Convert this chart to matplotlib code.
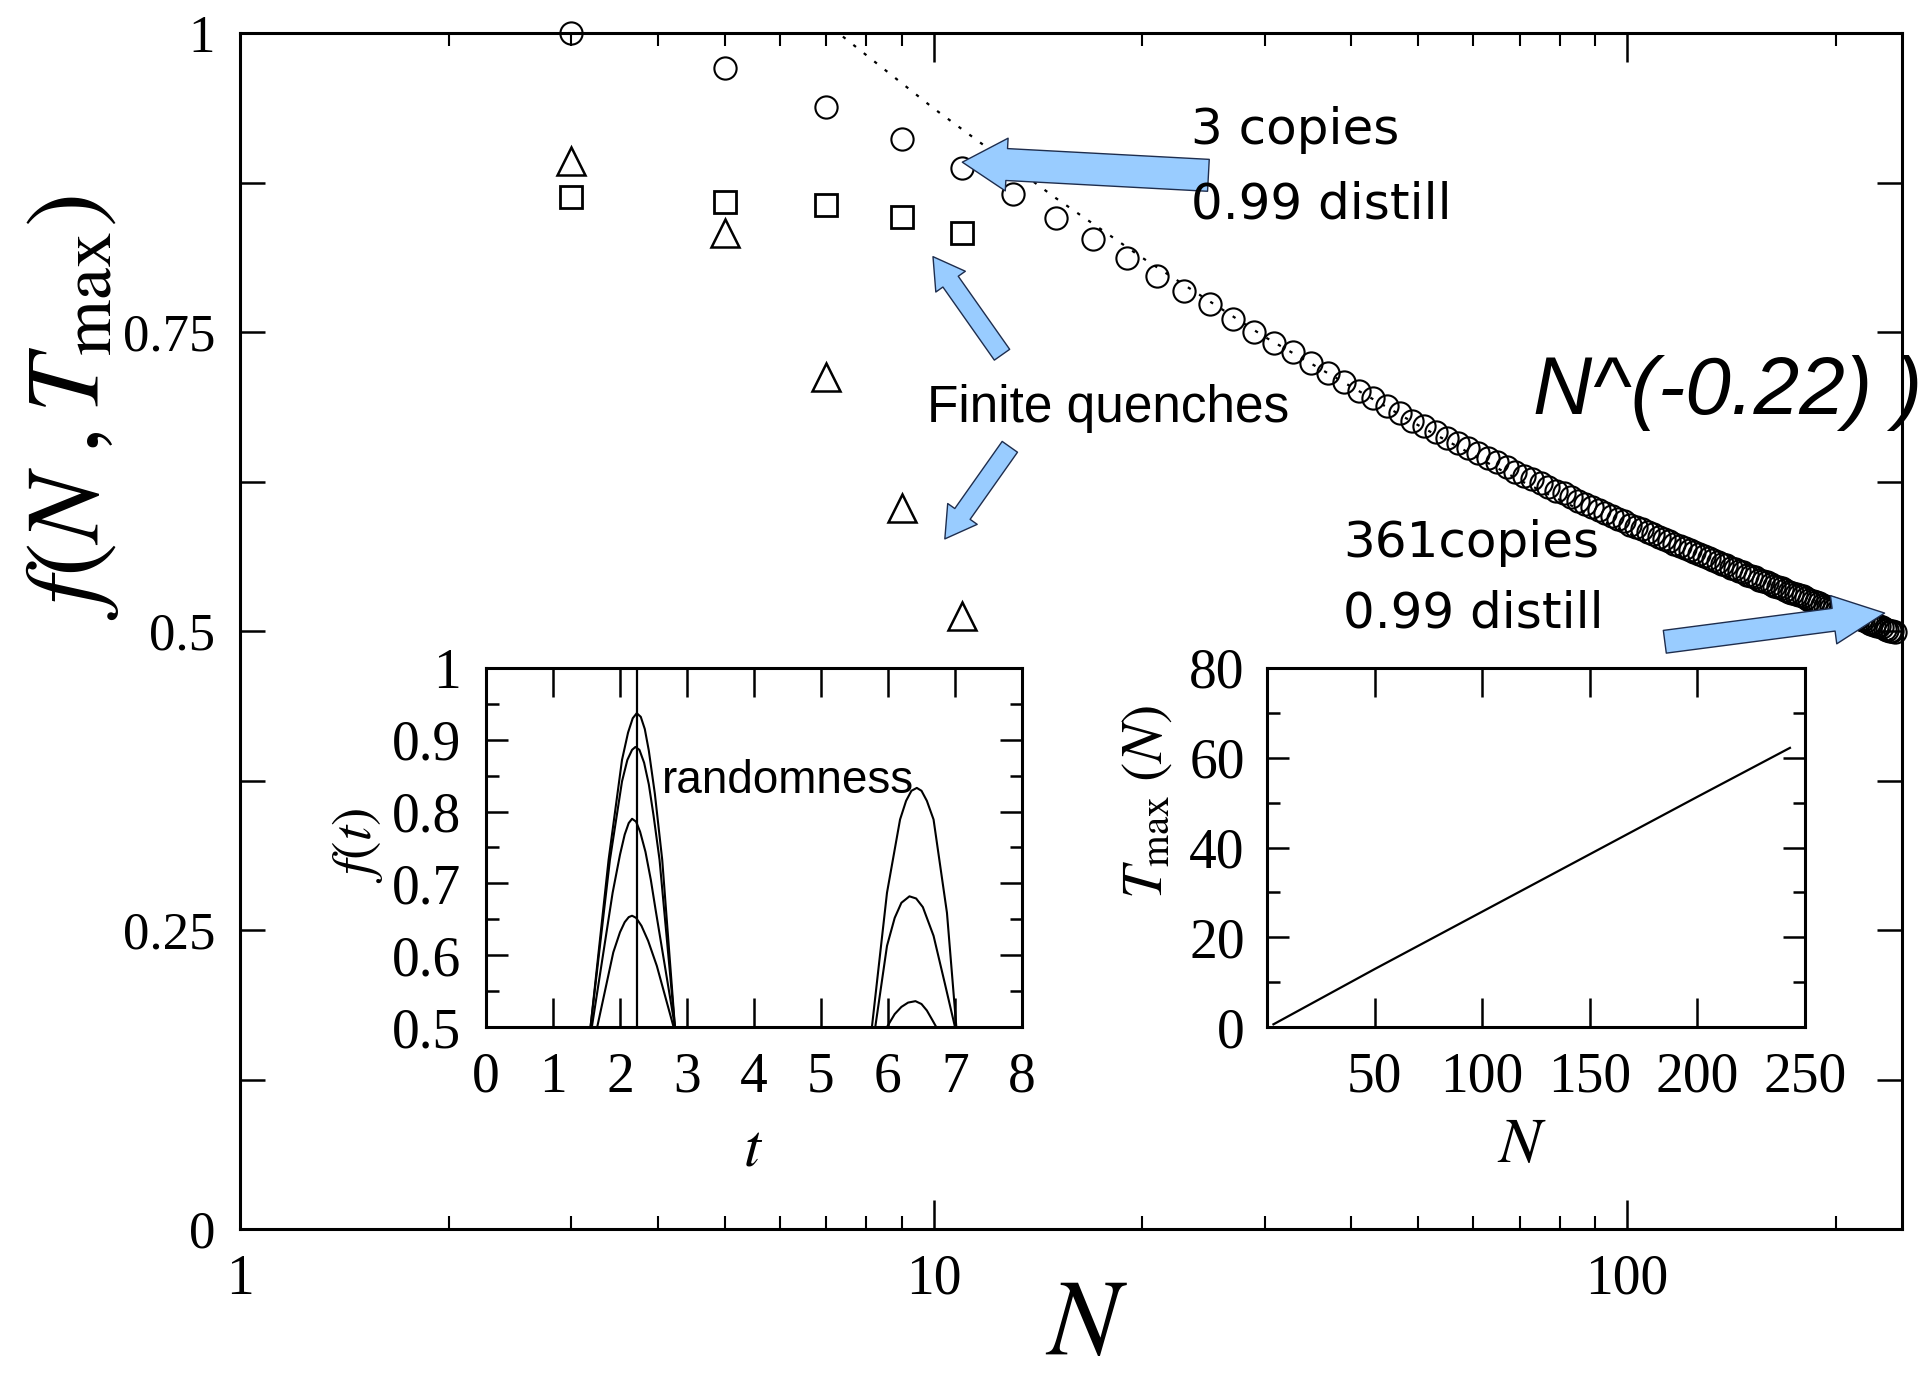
import numpy as np
import matplotlib
matplotlib.use("Agg")
import matplotlib.pyplot as plt
from matplotlib.ticker import LogLocator, NullFormatter

plt.rcParams['font.family'] = 'serif'
plt.rcParams['font.serif'] = ['Liberation Serif', 'DejaVu Serif']
plt.rcParams['mathtext.fontset'] = 'stix'

# ---- main panel data ----
N_circ = np.arange(3, 245, 2)
f_circ = [1.000, 0.971, 0.938, 0.911, 0.887, 0.865, 0.845, 0.828, 0.812, 0.797,
          0.784, 0.773, 0.761, 0.750, 0.741, 0.733, 0.724, 0.716, 0.708, 0.701,
          0.695, 0.688, 0.682, 0.676, 0.671, 0.666, 0.661, 0.657, 0.653, 0.649,
          0.645, 0.641, 0.637, 0.633, 0.630, 0.627, 0.624, 0.620, 0.617, 0.615,
          0.612, 0.609, 0.606, 0.604, 0.601, 0.599, 0.596, 0.594, 0.592, 0.589,
          0.587, 0.585, 0.583, 0.581, 0.579, 0.577, 0.575, 0.573, 0.571, 0.569,
          0.568, 0.566, 0.564, 0.563, 0.561, 0.559, 0.558, 0.556, 0.555, 0.553,
          0.552, 0.550, 0.549, 0.547, 0.546, 0.545, 0.543, 0.542, 0.541, 0.539,
          0.538, 0.537, 0.536, 0.534, 0.533, 0.532, 0.531, 0.530, 0.529, 0.528,
          0.526, 0.525, 0.524, 0.523, 0.522, 0.521, 0.520, 0.519, 0.518, 0.517,
          0.516, 0.515, 0.514, 0.513, 0.512, 0.512, 0.511, 0.510, 0.509, 0.508,
          0.507, 0.506, 0.505, 0.504, 0.504, 0.503, 0.502, 0.501, 0.500, 0.500,
          0.499]

N_quench = [3, 5, 7, 9, 11]
f_square = [0.863, 0.859, 0.856, 0.846, 0.8325]
f_triangle = [0.893, 0.833, 0.712, 0.603, 0.5125]

N_fit = [7.4, 10, 15, 20, 30, 50, 70, 100, 150, 200, 249]
f_fit = [0.997, 0.937, 0.862, 0.812, 0.746, 0.672, 0.626, 0.582, 0.537, 0.508, 0.490]

# ---- inset 1: f(t) ----
t_A = [1.56, 1.83, 2.03, 2.12, 2.19, 2.25, 2.31, 2.37, 2.43, 2.52, 2.63, 2.82]
f_A = [0.50, 0.733, 0.872, 0.910, 0.930, 0.937, 0.932, 0.915, 0.885, 0.825, 0.733, 0.50]
t_B = [1.56, 1.85, 2.03, 2.11, 2.18, 2.23, 2.29, 2.36, 2.43, 2.50, 2.59, 2.82]
f_B = [0.50, 0.733, 0.842, 0.872, 0.886, 0.890, 0.886, 0.868, 0.838, 0.795, 0.733, 0.50]
t_C = [1.58, 1.89, 2.00, 2.07, 2.13, 2.18, 2.24, 2.30, 2.38, 2.46, 2.53, 2.82]
f_C = [0.50, 0.687, 0.740, 0.768, 0.784, 0.790, 0.786, 0.772, 0.744, 0.705, 0.664, 0.50]
t_D = [1.66, 1.90, 2.00, 2.07, 2.13, 2.18, 2.24, 2.32, 2.42, 2.55, 2.80]
f_D = [0.50, 0.604, 0.632, 0.646, 0.653, 0.655, 0.652, 0.641, 0.620, 0.585, 0.50]
t_E = [5.76, 5.985, 6.18, 6.27, 6.35, 6.43, 6.50, 6.58, 6.68, 6.88, 7.02]
f_E = [0.50, 0.687, 0.789, 0.815, 0.829, 0.833, 0.829, 0.815, 0.789, 0.659, 0.50]
t_F = [5.81, 5.985, 6.10, 6.20, 6.32, 6.42, 6.52, 6.68, 6.85, 7.00]
f_F = [0.50, 0.613, 0.652, 0.673, 0.682, 0.679, 0.667, 0.627, 0.560, 0.50]
t_G = [5.985, 6.10, 6.20, 6.30, 6.41, 6.50, 6.58, 6.66, 6.72]
f_G = [0.50, 0.518, 0.528, 0.534, 0.536, 0.532, 0.523, 0.510, 0.50]
t_mark = 2.25

# ---- inset 2: Tmax(N) ----
N_T = [3, 50, 100, 150, 200, 243]
T_max = [0.6, 12.9, 25.7, 38.5, 51.3, 62.2]

W, H = 1920, 1382
fig = plt.figure(figsize=(W / 100, H / 100), dpi=100)

def px_axes(left, top, right, bottom):
    return fig.add_axes([left / W, (H - bottom) / H, (right - left) / W, (bottom - top) / H])

ax = px_axes(240, 33, 1902, 1229)

ax.plot(N_fit, f_fit, color='black', lw=1.6, ls=(0, (1.5, 4.5)), zorder=1)
ax.plot(N_circ, f_circ, 'o', ms=16, mfc='none', mec='black', mew=1.5, clip_on=False, zorder=2)
ax.plot(N_quench, f_square, 's', ms=16, mfc='none', mec='black', mew=2.0, clip_on=False, zorder=2)
ax.plot(N_quench, f_triangle, '^', ms=20, mfc='none', mec='black', mew=1.8, clip_on=False, zorder=2)

ax.set_xscale('log')
ax.set_xlim(1, 249)
ax.set_ylim(0, 1)
ax.set_xticks([1, 10, 100])
ax.set_xticklabels(['1', '10', '100'])
ax.xaxis.set_minor_locator(LogLocator(base=10, subs=np.arange(2, 10)))
ax.xaxis.set_minor_formatter(NullFormatter())
ax.set_yticks([0, 0.25, 0.5, 0.75, 1])
ax.set_yticklabels(['0', '0.25', '0.5', '0.75', '1'])
ax.set_yticks([0.125, 0.375, 0.625, 0.875], minor=True)

ax.tick_params(axis='x', which='major', direction='in', length=21, width=1.8,
               top=True, labelsize=40, pad=18)
ax.tick_params(axis='x', which='minor', direction='in', length=9.5, width=1.5, top=True)
ax.tick_params(axis='y', which='both', direction='in', length=18, width=1.8,
               right=True, labelsize=38, pad=18)
for s in ax.spines.values():
    s.set_linewidth(2.2)

ax.set_xlabel(r'$N$', fontsize=78)
ax.xaxis.set_label_coords(0.5096, -0.083)
ax.xaxis.label.set_va('center')
ax.set_ylabel(r'$f(N\;,T_{\rm max})$', fontsize=74)
ax.yaxis.set_label_coords(-0.1005, 0.687)
ax.yaxis.label.set_va('center')

# arrows and annotations
blue = '#99ccff'
edge = '#1e2d4d'

def arrow(tip, tail, tw, hw, hl):
    ax.annotate('', xy=tip, xytext=tail, zorder=3,
                arrowprops=dict(arrowstyle='simple,head_length=%g,head_width=%g,tail_width=%g' % (hl, hw, tw),
                                mutation_scale=10, fc=blue, ec=edge, lw=1.0,
                                shrinkA=0, shrinkB=0))

arrow((11.0, 0.892), (24.9, 0.881), 2.3, 3.8, 3.2)
arrow((9.98, 0.813), (12.55, 0.731), 1.35, 2.6, 2.2)
arrow((10.38, 0.577), (12.88, 0.654), 1.35, 2.6, 2.2)
arrow((235, 0.515), (113.3, 0.491), 1.65, 3.5, 3.7)

comic = dict(family='DejaVu Sans', fontsize=36, transform=ax.transAxes, va='baseline', zorder=5)
ax.text(0.572, 0.9068, '3 copies', **comic)
ax.text(0.572, 0.8453, '0.99 distill', **comic)
ax.text(0.6637, 0.5619, '361copies', **comic)
ax.text(0.6637, 0.5033, '0.99 distill', **comic)
ax.text(0.4134, 0.6748, 'Finite quenches', family='Liberation Sans', fontsize=37,
        transform=ax.transAxes, va='baseline', zorder=5)
ax.text(0.778, 0.6814, 'N^(-0.22) )', family='Liberation Sans', style='italic', fontsize=59,
        transform=ax.transAxes, va='baseline', zorder=5)

# ---- inset 1 ----
ax1 = px_axes(486, 668, 1022, 1027)
for tt, ff in [(t_A, f_A), (t_B, f_B), (t_C, f_C), (t_D, f_D), (t_E, f_E), (t_F, f_F), (t_G, f_G)]:
    ax1.plot(tt, ff, color='black', lw=1.5)
ax1.axvline(t_mark, color='black', lw=1.6)
ax1.set_xlim(0, 8)
ax1.set_ylim(0.5, 1)
ax1.set_xticks(range(0, 9))
ax1.set_yticks([0.5, 0.6, 0.7, 0.8, 0.9, 1.0])
ax1.set_yticklabels(['0.5', '0.6', '0.7', '0.8', '0.9', '1'])
ax1.set_yticks([0.55, 0.65, 0.75, 0.85, 0.95], minor=True)
ax1.tick_params(axis='x', direction='in', length=21, width=1.8, top=True, labelsize=40, pad=18)
ax1.tick_params(axis='y', which='major', direction='in', length=16, width=1.8, right=True,
                labelsize=40, pad=18)
ax1.tick_params(axis='y', which='minor', direction='in', length=9, width=1.8, right=True)
for s in ax1.spines.values():
    s.set_linewidth(2.2)
ax1.set_xlabel(r'$t$', fontsize=44)
ax1.xaxis.set_label_coords(0.498, -0.345)
ax1.xaxis.label.set_va('center')
ax1.set_ylabel(r'$f(t)$', fontsize=40)
ax1.yaxis.set_label_coords(-0.239, 0.507)
ax1.yaxis.label.set_va('center')
ax1.text(0.328, 0.652, 'randomness', family='Liberation Sans', fontsize=33,
         transform=ax1.transAxes, va='baseline')

# ---- inset 2 ----
ax2 = px_axes(1267, 668, 1805, 1027)
ax2.plot(N_T, T_max, color='black', lw=1.6)
ax2.set_xlim(0, 250)
ax2.set_ylim(0, 80)
ax2.set_xticks([50, 100, 150, 200, 250])
ax2.set_yticks([0, 20, 40, 60, 80])
ax2.set_yticks([10, 30, 50, 70], minor=True)
ax2.tick_params(axis='x', direction='in', length=21, width=1.8, top=True, labelsize=40, pad=18)
ax2.tick_params(axis='y', which='major', direction='in', length=16, width=1.8, right=True,
                labelsize=40, pad=16)
ax2.tick_params(axis='y', which='minor', direction='in', length=9, width=1.8, right=True)
for s in ax2.spines.values():
    s.set_linewidth(2.2)
ax2.set_xlabel(r'$N$', fontsize=46)
ax2.xaxis.set_label_coords(0.474, -0.334)
ax2.xaxis.label.set_va('center')
ax2.set_ylabel(r'$T_{\rm max}\;(N)$', fontsize=42)
ax2.yaxis.set_label_coords(-0.223, 0.627)
ax2.yaxis.label.set_va('center')

fig.savefig('out.png', dpi=100)
